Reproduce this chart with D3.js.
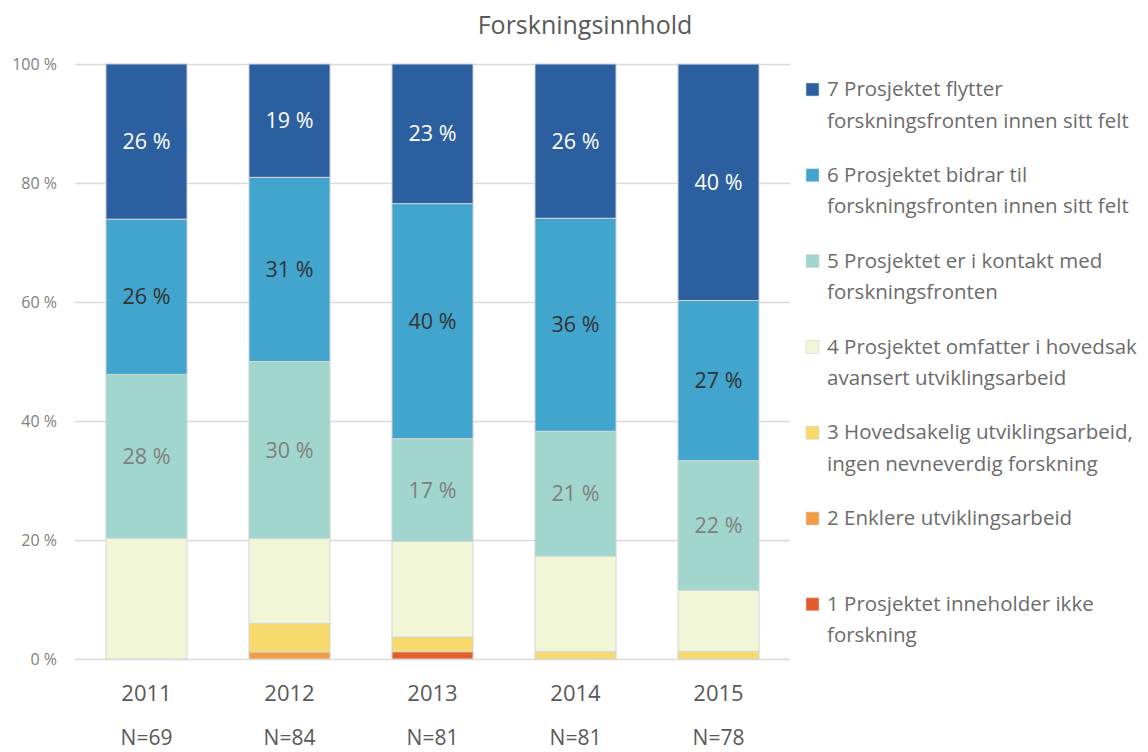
<!DOCTYPE html>
<html>
<head>
<meta charset="utf-8">
<script src="https://cdn.jsdelivr.net/npm/d3@7"></script>
<style>
  html, body { margin: 0; padding: 0; background: #fff; }
  svg { display: block; font-family: "Open Sans", "Noto Sans", sans-serif; }
</style>
</head>
<body>
<svg id="chart" width="1148" height="752"></svg>
<script>
// Years and number of answers
const years = ["2011", "2012", "2013", "2014", "2015"];
const counts = ["N=69", "N=84", "N=81", "N=81", "N=78"];

// Share (%) per category, one entry per year, bottom category first
const cat1 = [0, 0, 1.23, 0, 0];
const cat2 = [0, 1.19, 0, 0, 0];
const cat3 = [0, 4.76, 2.47, 1.23, 1.28];
const cat4 = [20.29, 14.29, 16.05, 16.05, 10.26];
const cat5 = [27.54, 29.76, 17.28, 20.99, 21.79];
const cat6 = [26.09, 30.95, 39.51, 35.80, 26.92];
const cat7 = [26.09, 19.05, 23.46, 25.93, 39.74];

// Legend lines as they wrap, bottom category first
const legendLines = [
  ["1 Prosjektet inneholder ikke", "forskning"],
  ["2 Enklere utviklingsarbeid"],
  ["3 Hovedsakelig utviklingsarbeid,", "ingen nevneverdig forskning"],
  ["4 Prosjektet omfatter i hovedsak", "avansert utviklingsarbeid"],
  ["5 Prosjektet er i kontakt med", "forskningsfronten"],
  ["6 Prosjektet bidrar til", "forskningsfronten innen sitt felt"],
  ["7 Prosjektet flytter", "forskningsfronten innen sitt felt"]
];
const yTicks = [0, 20, 40, 60, 80, 100];

const series = [cat1, cat2, cat3, cat4, cat5, cat6, cat7];
const colors = ["#e35d2a", "#ef9c45", "#f8d96b", "#f1f6d6", "#a0d6cd", "#42a5cd", "#2c5f9f"];
// Value labels: only the three upper categories carry labels
const labelColors = [null, null, null, null, "#7f7f7f", "#333333", "#ffffff"];

const svg = d3.select("#chart");

const x = d3.scaleBand().domain(years).range([75, 790]).paddingInner(0.433).paddingOuter(0.2165);
const y = d3.scaleLinear().domain([0, 100]).range([659, 64]);

// Title
svg.append("text")
  .attr("x", 585).attr("y", 34)
  .attr("text-anchor", "middle")
  .attr("font-size", 25).attr("fill", "#595959")
  .text("Forskningsinnhold");

// Gridlines and y labels
const yAxis = d3.axisLeft(y).tickValues(yTicks).tickSize(-(790 - 75)).tickPadding(18)
  .tickFormat(d => d + " %");
const gy = svg.append("g").attr("transform", "translate(75,0)").call(yAxis);
gy.select(".domain").remove();
gy.selectAll(".tick line").attr("stroke", "#d9d9d9").attr("stroke-width", 1.3);
gy.selectAll(".tick text").attr("fill", "#808080").attr("font-size", 16)
  .attr("font-family", "'Open Sans', sans-serif");

// Stack the series
const rows = years.map((yr, i) => {
  const r = { year: yr, idx: i };
  series.forEach((s, k) => { r["c" + k] = s[i]; });
  return r;
});
const keys = series.map((s, k) => "c" + k);
const stacked = d3.stack().keys(keys)(rows);

const layers = svg.append("g").selectAll("g").data(stacked).join("g")
  .attr("fill", (d, k) => colors[k]);

layers.selectAll("rect").data(d => d.filter(p => p[1] - p[0] > 0)).join("rect")
  .attr("x", d => x(d.data.year))
  .attr("width", x.bandwidth())
  .attr("y", d => y(d[1]))
  .attr("height", d => y(d[0]) - y(d[1]))
  .attr("stroke", "#d6d6d6")
  .attr("stroke-width", 1);

// Segment labels, text taken from the series value
stacked.forEach((layer, k) => {
  if (!labelColors[k]) return;
  svg.append("g").selectAll("text").data(layer).join("text")
    .attr("x", d => x(d.data.year) + x.bandwidth() / 2)
    .attr("y", d => y((d[0] + d[1]) / 2))
    .attr("dy", "0.35em")
    .attr("text-anchor", "middle")
    .attr("font-size", 21.5)
    .attr("fill", labelColors[k])
    .text(d => Math.round(series[k][d.data.idx]) + " %");
});

// X axis: year and count lines
const xAxis = svg.append("g");
xAxis.selectAll("text.year").data(years).join("text")
  .attr("class", "year")
  .attr("x", d => x(d) + x.bandwidth() / 2)
  .attr("y", 701)
  .attr("text-anchor", "middle")
  .attr("font-size", 22).attr("fill", "#595959")
  .text(d => d);
xAxis.selectAll("text.n").data(counts).join("text")
  .attr("class", "n")
  .attr("x", (d, i) => x(years[i]) + x.bandwidth() / 2)
  .attr("y", 745)
  .attr("text-anchor", "middle")
  .attr("font-size", 21).attr("fill", "#595959")
  .text(d => d);

// Legend, top category first
const legendOrder = [6, 5, 4, 3, 2, 1, 0];
const legend = svg.append("g");
legendOrder.forEach((k, i) => {
  const top = 89 + i * 85.8;
  const g = legend.append("g").attr("transform", `translate(806,${top})`);
  g.append("rect").attr("x", 0).attr("y", -6).attr("width", 13).attr("height", 13)
    .attr("fill", colors[k]).attr("stroke", "#d6d6d6").attr("stroke-width", 0.6);
  legendLines[k].forEach((line, j) => {
    g.append("text")
      .attr("x", 21).attr("y", j * 31.5)
      .attr("dy", "0.35em")
      .attr("font-size", 20.5).attr("fill", "#6b6b6b")
      .text(line);
  });
});
</script>
</body>
</html>
